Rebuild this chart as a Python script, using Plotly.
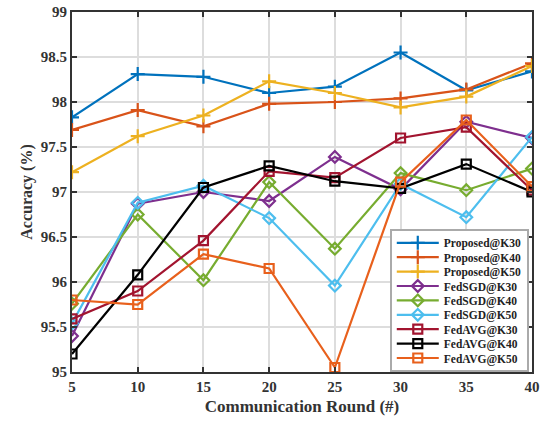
import plotly.graph_objects as go

rounds = [5, 10, 15, 20, 25, 30, 35, 40]

proposed_k30 = [97.83, 98.31, 98.28, 98.10, 98.17, 98.55, 98.13, 98.34]
proposed_k40 = [97.69, 97.91, 97.73, 97.98, 98.00, 98.04, 98.14, 98.43]
proposed_k50 = [97.22, 97.62, 97.85, 98.23, 98.10, 97.94, 98.06, 98.40]
fedsgd_k30 = [95.40, 96.87, 97.00, 96.90, 97.39, 97.03, 97.78, 97.60]
fedsgd_k40 = [95.76, 96.75, 96.02, 97.11, 96.37, 97.21, 97.02, 97.26]
fedsgd_k50 = [95.54, 96.88, 97.07, 96.71, 95.96, 97.09, 96.72, 97.61]
fedavg_k30 = [95.59, 95.90, 96.46, 97.23, 97.16, 97.60, 97.72, 97.02]
fedavg_k40 = [95.20, 96.08, 97.05, 97.29, 97.12, 97.04, 97.31, 97.00]
fedavg_k50 = [95.80, 95.75, 96.31, 96.15, 95.05, 97.11, 97.80, 97.06]

series = [
    ("Proposed@K30", proposed_k30, "#0072BD", "cross-thin-open"),
    ("Proposed@K40", proposed_k40, "#D95319", "cross-thin-open"),
    ("Proposed@K50", proposed_k50, "#EDB120", "cross-thin-open"),
    ("FedSGD@K30", fedsgd_k30, "#7E2F8E", "diamond-open"),
    ("FedSGD@K40", fedsgd_k40, "#77AC30", "diamond-open"),
    ("FedSGD@K50", fedsgd_k50, "#4DBEEE", "diamond-open"),
    ("FedAVG@K30", fedavg_k30, "#A2142F", "square-open"),
    ("FedAVG@K40", fedavg_k40, "#000000", "square-open"),
    ("FedAVG@K50", fedavg_k50, "#E8601C", "square-open"),
]

FONT = "Liberation Serif"

fig = go.Figure()
for name, vals, color, sym in series:
    fig.add_trace(go.Scatter(
        x=rounds, y=vals, name=name, mode="lines+markers",
        line=dict(color=color, width=2.2),
        marker=dict(symbol=sym, size=9 if "cross" not in sym else 10,
                    color=color, line=dict(color=color, width=2.2)),
    ))

axis_common = dict(
    showline=True, linecolor="#333333", linewidth=2, mirror="ticks",
    ticks="inside", ticklen=5, tickwidth=1.5, tickcolor="#333333",
    showgrid=True, gridcolor="#dddddd", gridwidth=1.5,
    zeroline=False, automargin=False,
    tickfont=dict(family=FONT, size=15, color="#333333", weight="bold"),
)

fig.update_xaxes(range=[5, 40], tickvals=rounds, ticktext=[str(r) for r in rounds],
                 title=dict(text="Communication Round (#)", standoff=6,
                            font=dict(family=FONT, size=17, color="#333333", weight="bold")),
                 **axis_common)
y_ticks = [95, 95.5, 96, 96.5, 97, 97.5, 98, 98.5, 99]
y_labels = ["95", "95.5", "96", "96.5", "97", "97.5", "98", "98.5", "99"]
fig.update_yaxes(range=[95, 99], tickvals=y_ticks, ticktext=y_labels,
                 title=dict(text="Accuracy (%)", standoff=4,
                            font=dict(family=FONT, size=16, color="#333333", weight="bold")),
                 **axis_common)

fig.update_layout(
    width=550, height=425,
    margin=dict(l=72, r=18, t=12, b=52),
    plot_bgcolor="white", paper_bgcolor="white",
    showlegend=True,
    legend=dict(
        x=0.993, y=0.40, xanchor="right", yanchor="top",
        bgcolor="white", bordercolor="#aaaaaa", borderwidth=2,
        font=dict(family=FONT, size=11.5, color="#222222", weight="bold"),
        tracegroupgap=0, itemwidth=42,
    ),
)

post_js = """
document.body.style.margin='0';
document.body.style.overflow='hidden';
var gd=document.getElementById('{plot_id}');
var items=gd.querySelectorAll('g.legend g.traces');
var step=14.4;
if(items.length>1){
  var re=/translate\\(\\s*([-\\d.e]+)[ ,]\\s*([-\\d.e]+)\\s*\\)/;
  var m0=re.exec(items[0].getAttribute('transform'));
  var m1=re.exec(items[1].getAttribute('transform'));
  if(m0 && m1){
    var y0=parseFloat(m0[2]);
    var orig=parseFloat(m1[2])-y0;
    var ny0=y0-(orig-step)/2;
    items.forEach(function(t,i){
      var m=re.exec(t.getAttribute('transform'));
      t.setAttribute('transform','translate('+m[1]+','+(ny0+i*step)+')');
    });
    var bg=gd.querySelector('g.legend rect.bg');
    var h=parseFloat(bg.getAttribute('height'));
    bg.setAttribute('height', h-(orig-step)*items.length);
  }
}
"""

fig.write_html("out.html", config={"displayModeBar": False}, post_script=post_js)
